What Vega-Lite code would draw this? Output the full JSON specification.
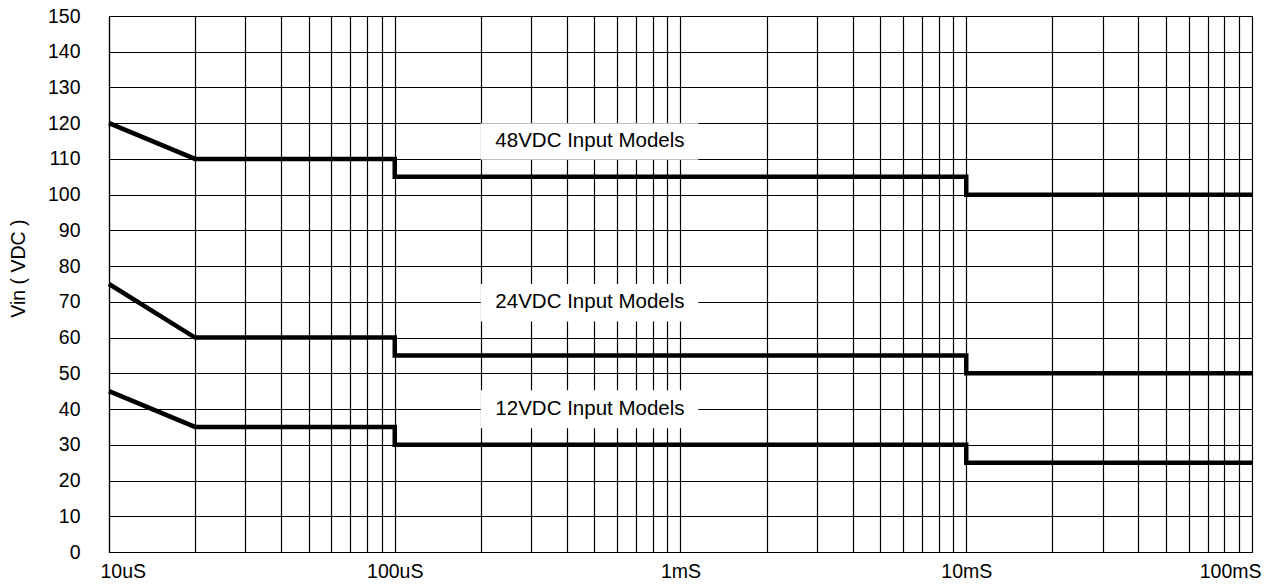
{
  "$schema": "https://vega.github.io/schema/vega-lite/v6.json",
  "width": 1143,
  "height": 536,
  "autosize": {"type": "none"},
  "padding": {"left": 109, "top": 16, "right": 24, "bottom": 32},
  "background": "white",
  "config": {
    "font": "Liberation Sans",
    "view": {"stroke": "black", "strokeWidth": 1},
    "axis": {
      "labelFont": "Liberation Sans",
      "titleFont": "Liberation Sans",
      "labelFontSize": 19.5,
      "titleFontSize": 19.5,
      "labelColor": "black",
      "titleColor": "black",
      "titleFontWeight": "normal",
      "gridColor": "black",
      "gridOpacity": 1,
      "gridWidth": 1.2,
      "domainColor": "black",
      "domainWidth": 1.2,
      "ticks": false,
      "labelOverlap": false
    },
    "axisX": {
      "grid": true,
      "values": [10, 20, 30, 40, 50, 60, 70, 80, 90, 100, 200, 300, 400, 500, 600, 700, 800, 900, 1000, 2000, 3000, 4000, 5000, 6000, 7000, 8000, 9000, 10000, 20000, 30000, 40000, 50000, 60000, 70000, 80000, 90000, 100000],
      "labelExpr": "datum.value == 10 ? '10uS' : datum.value == 100 ? '100uS' : datum.value == 1000 ? '1mS' : datum.value == 10000 ? '10mS' : datum.value == 100000 ? '100mS' : ''",
      "labelFlush": true,
      "labelFlushOffset": 9,
      "labelPadding": 10
    },
    "axisY": {
      "grid": true,
      "values": [0, 10, 20, 30, 40, 50, 60, 70, 80, 90, 100, 110, 120, 130, 140, 150],
      "labelPadding": 29,
      "titleAngle": -90,
      "titleBaseline": "middle",
      "titleAlign": "center",
      "titleX": -91,
      "titleY": 252
    }
  },
  "datasets": {
    "lines": [
      {"series": "48VDC", "i": 0, "t": 10, "v": 120},
      {"series": "48VDC", "i": 1, "t": 20, "v": 110},
      {"series": "48VDC", "i": 2, "t": 100, "v": 110},
      {"series": "48VDC", "i": 3, "t": 100, "v": 105},
      {"series": "48VDC", "i": 4, "t": 10000, "v": 105},
      {"series": "48VDC", "i": 5, "t": 10000, "v": 100},
      {"series": "48VDC", "i": 6, "t": 100000, "v": 100},
      {"series": "24VDC", "i": 0, "t": 10, "v": 75},
      {"series": "24VDC", "i": 1, "t": 20, "v": 60},
      {"series": "24VDC", "i": 2, "t": 100, "v": 60},
      {"series": "24VDC", "i": 3, "t": 100, "v": 55},
      {"series": "24VDC", "i": 4, "t": 10000, "v": 55},
      {"series": "24VDC", "i": 5, "t": 10000, "v": 50},
      {"series": "24VDC", "i": 6, "t": 100000, "v": 50},
      {"series": "12VDC", "i": 0, "t": 10, "v": 45},
      {"series": "12VDC", "i": 1, "t": 20, "v": 35},
      {"series": "12VDC", "i": 2, "t": 100, "v": 35},
      {"series": "12VDC", "i": 3, "t": 100, "v": 30},
      {"series": "12VDC", "i": 4, "t": 10000, "v": 30},
      {"series": "12VDC", "i": 5, "t": 10000, "v": 25},
      {"series": "12VDC", "i": 6, "t": 100000, "v": 25}
    ],
    "labels": [
      {"label": "48VDC Input Models", "x1": 200, "x2": 1155, "xc": 482, "y1": 109.8, "y2": 120, "yc": 115},
      {"label": "24VDC Input Models", "x1": 200, "x2": 1155, "xc": 482, "y1": 64.5, "y2": 75, "yc": 70},
      {"label": "12VDC Input Models", "x1": 200, "x2": 1155, "xc": 482, "y1": 34.6, "y2": 45.3, "yc": 40}
    ]
  },
  "layer": [
    {
      "data": {"name": "lines"},
      "mark": {"type": "line", "color": "black", "strokeWidth": 4.5, "strokeJoin": "miter", "strokeCap": "butt"},
      "encoding": {
        "x": {
          "field": "t",
          "type": "quantitative",
          "title": null,
          "scale": {"type": "log", "domain": [10, 100000], "nice": false}
        },
        "y": {
          "field": "v",
          "type": "quantitative",
          "title": "Vin ( VDC )",
          "scale": {"domain": [0, 150], "nice": false, "zero": true}
        },
        "detail": {"field": "series"},
        "order": {"field": "i", "type": "quantitative"}
      }
    },
    {
      "data": {"name": "labels"},
      "mark": {"type": "rect", "fill": "white", "stroke": null},
      "encoding": {
        "x": {"field": "x1", "type": "quantitative", "title": null},
        "x2": {"field": "x2"},
        "y": {"field": "y1", "type": "quantitative", "title": "Vin ( VDC )"},
        "y2": {"field": "y2"}
      }
    },
    {
      "data": {"name": "labels"},
      "mark": {"type": "text", "fontSize": 20.5, "font": "Liberation Sans", "color": "black", "align": "center", "baseline": "middle"},
      "encoding": {
        "x": {"field": "xc", "type": "quantitative", "title": null},
        "y": {"field": "yc", "type": "quantitative", "title": "Vin ( VDC )"},
        "text": {"field": "label"}
      }
    }
  ]
}
